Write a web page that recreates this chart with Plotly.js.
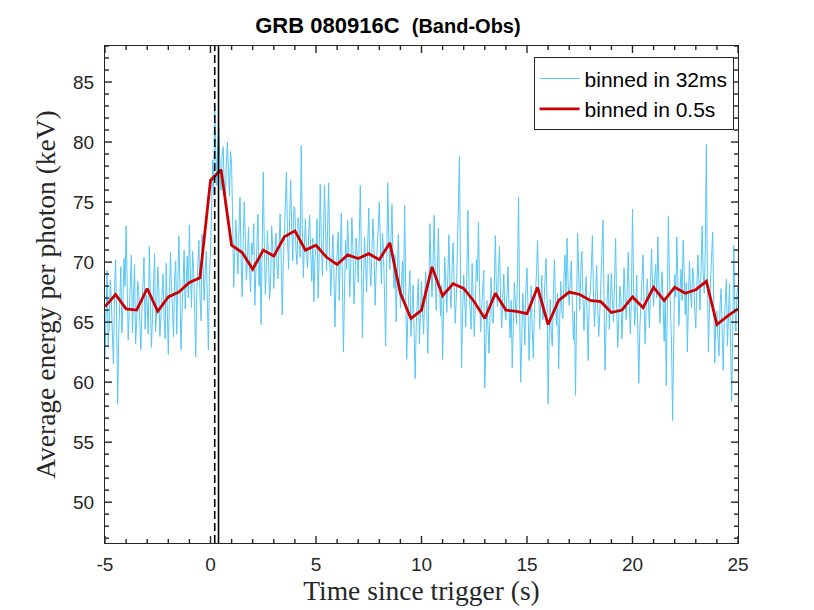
<!DOCTYPE html>
<html>
<head>
<meta charset="utf-8">
<script src="https://cdn.plot.ly/plotly-3.0.1.min.js"></script>
<style>html,body{margin:0;padding:0;background:#fff;}#chart{width:814px;height:610px;}</style>
</head>
<body>
<div id="chart"></div>
<script>
// 32 ms series (shown here sampled every 0.05 s), start time and step
const fineStart = -5.0;
const fineStep = 0.05;
const fineValues = [
  62.0, 67.4, 69.3, 63.1, 64.8, 68.5, 66.9, 64.0, 61.5, 67.3, 70.2, 65.4, 58.2, 63.9, 67.9, 69.6, 64.1, 66.2, 70.3, 68.0,
  73.0, 67.2, 63.5, 65.9, 68.2, 70.6, 64.1, 67.0, 69.8, 63.2, 65.0, 68.4, 67.6, 64.9, 62.7, 66.1, 68.9, 70.4, 64.4, 67.3,
  66.5, 64.0, 71.3, 67.5, 62.9, 65.2, 68.4, 70.7, 64.2, 66.0, 69.6, 67.8, 63.8, 65.5, 67.1, 69.0, 65.3, 63.6, 69.9, 66.4,
  62.3, 66.6, 70.8, 68.1, 65.4, 63.8, 68.7, 70.1, 64.0, 67.9, 72.2, 68.3, 62.7, 65.7, 69.3, 71.0, 66.1, 68.6, 70.5, 67.0,
  73.1, 69.0, 66.2, 70.9, 69.5, 65.8, 62.1, 67.6, 70.4, 71.8, 67.3, 65.1, 72.3, 69.7, 66.8, 69.3, 70.9, 67.0, 62.7, 68.9,
  70.8, 74.3, 78.5, 75.6, 83.0, 79.1, 76.4, 80.2, 81.2, 77.9, 76.0, 78.8, 79.6, 76.5, 74.8, 78.1, 80.0, 77.4, 75.5, 79.2,
  78.2, 73.4, 67.9, 70.8, 73.5, 71.2, 69.0, 72.6, 75.4, 70.3, 67.1, 71.9, 75.0, 72.1, 68.5, 70.0, 72.9, 69.4, 67.5, 71.6,
  70.6, 73.2, 66.4, 69.1, 71.8, 74.0, 68.0, 70.5, 64.8, 69.6, 77.5, 71.4, 67.3, 69.8, 72.6, 70.1, 66.9, 68.5, 73.0, 71.1,
  67.8, 70.9, 72.4, 69.7, 68.6, 71.3, 74.0, 70.2, 65.6, 69.9, 73.2, 75.1, 77.5, 72.0, 69.4, 73.8, 76.8, 72.7, 70.1, 74.6,
  74.5, 71.0, 69.8, 73.7, 72.9, 70.4, 79.7, 73.1, 68.7, 71.5, 73.6, 70.8, 69.5, 72.2, 73.9, 70.6, 68.4, 72.0, 66.7, 70.2,
  71.2, 73.6, 67.0, 70.4, 76.5, 72.1, 68.9, 71.7, 76.4, 73.0, 69.3, 72.8, 76.6, 70.5, 67.2, 69.8, 72.3, 69.0, 64.6, 68.7,
  70.4, 72.5, 66.8, 70.0, 74.1, 68.6, 62.5, 67.4, 71.8, 69.4, 73.5, 70.8, 67.1, 69.9, 73.7, 71.2, 66.5, 68.8, 72.0, 70.6,
  68.3, 71.9, 76.4, 70.7, 63.7, 68.2, 72.1, 70.0, 67.5, 71.4, 74.5, 69.6, 68.0, 70.9, 73.6, 71.3, 66.4, 69.2, 71.8, 73.0,
  75.0, 71.6, 68.2, 72.4, 70.9, 67.0, 63.0, 69.5, 76.6, 72.2, 69.4, 71.9, 74.8, 70.3, 67.8, 70.6, 65.0, 68.9, 72.3, 69.1,
  66.2, 68.0, 70.1, 66.9, 74.7, 67.7, 61.9, 65.4, 67.0, 69.3, 63.8, 66.5, 68.1, 64.2, 60.3, 64.7, 66.4, 68.6, 63.2, 65.8,
  68.4, 66.0, 64.0, 67.3, 69.2, 66.1, 62.4, 67.8, 73.2, 69.5, 67.1, 70.2, 73.9, 68.9, 66.0, 69.0, 72.8, 68.3, 65.5, 68.1,
  61.9, 66.4, 70.4, 68.2, 65.8, 69.0, 72.3, 67.6, 66.2, 69.7, 71.6, 67.9, 64.9, 67.1, 70.8, 72.6, 78.8, 68.4, 61.2, 66.0,
  68.9, 66.7, 64.6, 69.2, 74.3, 68.0, 66.5, 64.4, 69.9, 67.2, 63.8, 66.3, 70.2, 68.4, 73.3, 67.9, 64.2, 66.1, 67.8, 69.3,
  59.5, 63.8, 66.8, 64.6, 62.4, 66.0, 68.7, 65.2, 64.9, 68.1, 72.2, 67.6, 66.3, 69.5, 71.3, 66.8, 64.5, 67.0, 69.0, 65.9,
  65.2, 67.3, 69.6, 66.0, 63.7, 66.8, 61.2, 64.5, 68.3, 66.6, 64.8, 68.7, 75.4, 66.2, 60.0, 63.4, 67.4, 65.6, 63.1, 67.9,
  69.5, 66.1, 61.8, 65.0, 68.0, 64.3, 62.0, 65.8, 67.2, 69.1, 71.8, 67.7, 64.4, 66.6, 68.9, 65.2, 66.3, 68.4, 70.3, 66.8,
  58.2, 63.5, 66.9, 64.1, 63.0, 67.2, 70.2, 66.5, 64.7, 67.4, 61.1, 65.0, 68.4, 66.0, 65.3, 68.6, 70.6, 67.1, 72.0, 68.2,
  66.4, 68.3, 70.1, 66.7, 63.5, 65.9, 58.9, 66.2, 72.4, 68.9, 66.0, 69.4, 70.9, 67.3, 64.3, 66.8, 68.8, 65.5, 61.8, 66.9,
  67.5, 69.6, 72.2, 67.4, 64.6, 67.1, 69.7, 66.3, 63.8, 65.7, 68.1, 70.2, 73.5, 66.9, 61.0, 64.8, 67.6, 69.0, 64.4, 66.5,
  69.1, 66.8, 65.0, 68.4, 72.0, 66.2, 62.9, 65.3, 68.0, 66.9, 63.6, 66.1, 69.5, 67.0, 65.2, 67.8, 70.8, 66.4, 64.0, 67.2,
  74.4, 68.1, 64.7, 66.3, 68.9, 64.2, 59.9, 64.6, 67.0, 68.8, 70.6, 66.2, 63.2, 66.4, 68.6, 66.9, 64.5, 67.7, 71.1, 68.0,
  66.3, 68.5, 69.8, 67.0, 72.1, 68.3, 64.9, 67.6, 69.2, 66.6, 63.4, 67.1, 59.7, 66.5, 73.8, 69.0, 65.8, 63.2, 56.8, 65.0,
  69.0, 67.1, 72.1, 68.6, 64.7, 67.5, 69.4, 66.8, 71.8, 69.2, 65.6, 68.3, 62.5, 66.7, 70.1, 67.4, 66.2, 69.5, 68.7, 66.0,
  64.5, 67.9, 70.6, 68.2, 66.0, 69.4, 73.0, 69.1, 67.4, 71.0, 79.8, 68.7, 62.5, 66.4, 68.3, 70.5, 72.5, 66.6, 61.6, 65.7,
  65.9, 63.6, 62.2, 66.4, 67.8, 64.0, 61.0, 65.1, 66.5, 68.6, 63.0, 65.7, 68.2, 62.9, 58.4, 64.1, 71.4, 66.3, 64.2, 67.4,
  68.0
];

// 0.5 s binned series
const coarseTimes = [
  -5, -4.5, -4, -3.5, -3, -2.5, -2, -1.5, -1, -0.5,
  0, 0.5, 1, 1.5, 2, 2.5, 3, 3.5, 4, 4.5,
  5, 5.5, 6, 6.5, 7, 7.5, 8, 8.5, 9, 9.5,
  10, 10.5, 11, 11.5, 12, 12.5, 13, 13.5, 14, 14.5,
  15, 15.5, 16, 16.5, 17, 17.5, 18, 18.5, 19, 19.5,
  20, 20.5, 21, 21.5, 22, 22.5, 23, 23.5, 24, 24.5, 25
];
const coarseValues = [
  66.3, 67.3, 66.1, 66.0, 67.8, 65.9, 67.1, 67.5, 68.3, 68.7,
  76.8, 77.7, 71.4, 70.8, 69.4, 71.0, 70.5, 72.1, 72.6, 71.0,
  71.4, 70.4, 69.8, 70.6, 70.3, 70.7, 70.2, 71.6, 67.4, 65.3,
  66.0, 69.6, 67.2, 68.2, 67.8, 66.7, 65.3, 67.4, 66.0, 65.9,
  65.7, 67.9, 64.8, 66.8, 67.5, 67.3, 66.8, 66.7, 65.8, 66.0,
  67.1, 66.2, 67.9, 66.8, 67.9, 67.4, 67.7, 68.4, 64.8, 65.5, 66.1
];

// vertical reference times (dashed, solid)
const dashedLineTime = 0.2;
const solidLineTime = 0.38;

const xRange = [-5, 25];
const yRange = [46.6, 88];
const xTickVals = [-5, 0, 5, 10, 15, 20, 25];
const xTickText = ['-5', '0', '5', '10', '15', '20', '25'];
const yTickVals = [50, 55, 60, 65, 70, 75, 80, 85];
const majorStep = 5;
const minorStep = 1;

const fineTimes = fineValues.map((_, i) => +(fineStart + i * fineStep).toFixed(3));

const axisColor = '#262626';
const sans = 'Liberation Sans, Arial, sans-serif';
const serif = 'Liberation Serif, Times New Roman, serif';

const W = 814, H = 610;
const margin = {l: 105, r: 76, t: 46, b: 67};
const plotW = W - margin.l - margin.r, plotH = H - margin.t - margin.b;
const majorLen = 7, minorLen = 4;

// inside tick marks on all four sides (box style), generated from the axis ranges
const tickShapes = [];
const tickLine = {color: axisColor, width: 1.4};
for (let v = Math.ceil(xRange[0]); v <= xRange[1]; v += minorStep) {
  const len = (v % majorStep === 0 ? majorLen : minorLen) / plotH;
  tickShapes.push({type: 'line', xref: 'x', yref: 'paper', x0: v, x1: v, y0: 0, y1: len, line: tickLine});
  tickShapes.push({type: 'line', xref: 'x', yref: 'paper', x0: v, x1: v, y0: 1 - len, y1: 1, line: tickLine});
}
for (let v = Math.ceil(yRange[0]); v <= yRange[1]; v += minorStep) {
  const len = (v % majorStep === 0 ? majorLen : minorLen) / plotW;
  tickShapes.push({type: 'line', xref: 'paper', yref: 'y', x0: 0, x1: len, y0: v, y1: v, line: tickLine});
  tickShapes.push({type: 'line', xref: 'paper', yref: 'y', x0: 1 - len, x1: 1, y0: v, y1: v, line: tickLine});
}

const traces = [
  {
    x: fineTimes, y: fineValues, type: 'scatter', mode: 'lines',
    name: 'binned in 32ms',
    line: {color: '#55C6F7', width: 1}
  },
  {
    x: coarseTimes, y: coarseValues, type: 'scatter', mode: 'lines',
    name: 'binned in 0.5s',
    line: {color: '#CC0000', width: 2.8}
  }
];

const layout = {
  width: W, height: H,
  paper_bgcolor: '#fff', plot_bgcolor: '#fff',
  margin: margin,
  title: {
    text: '<b>GRB 080916C</b>\u00a0\u00a0<b><span style="font-size:20px">(Band-Obs)</span></b>',
    font: {family: sans, size: 22, color: '#000'},
    x: 0.447, xref: 'paper', xanchor: 'center',
    y: 0.958, yref: 'container', yanchor: 'middle'
  },
  showlegend: true,
  legend: {
    x: 0.993, xanchor: 'right', y: 0.977, yanchor: 'top',
    bgcolor: '#fff', bordercolor: '#262626', borderwidth: 1,
    font: {family: sans, size: 21, color: '#000'},
    tracegroupgap: 0, itemwidth: 40
  },
  xaxis: {
    range: xRange, tickmode: 'array', tickvals: xTickVals, ticktext: xTickText,
    ticks: '', ticklabelstandoff: 4,
    showline: true, linecolor: axisColor, linewidth: 1, mirror: true,
    showgrid: false, zeroline: false,
    tickfont: {family: sans, size: 19, color: '#262626'},
    title: {text: 'Time since trigger (s)', font: {family: serif, size: 27.5, color: '#262626'}, standoff: 6}
  },
  yaxis: {
    range: yRange, tickmode: 'array', tickvals: yTickVals,
    ticks: '', ticklabelstandoff: 6,
    showline: true, linecolor: axisColor, linewidth: 1, mirror: true,
    showgrid: false, zeroline: false,
    tickfont: {family: sans, size: 19, color: '#262626'},
    title: {text: 'Average energy per photon (keV)', font: {family: serif, size: 27.5, color: '#262626'}, standoff: 9}
  },
  shapes: tickShapes.concat([
    {type: 'line', xref: 'x', yref: 'paper', x0: dashedLineTime, x1: dashedLineTime, y0: 0, y1: 1,
     line: {color: '#000', width: 1.6, dash: '8px,4px'}},
    {type: 'line', xref: 'x', yref: 'paper', x0: solidLineTime, x1: solidLineTime, y0: 0, y1: 1,
     line: {color: '#000', width: 1.6}}
  ])
};

Plotly.newPlot('chart', traces, layout, {displayModeBar: false, staticPlot: true});
</script>
</body>
</html>
